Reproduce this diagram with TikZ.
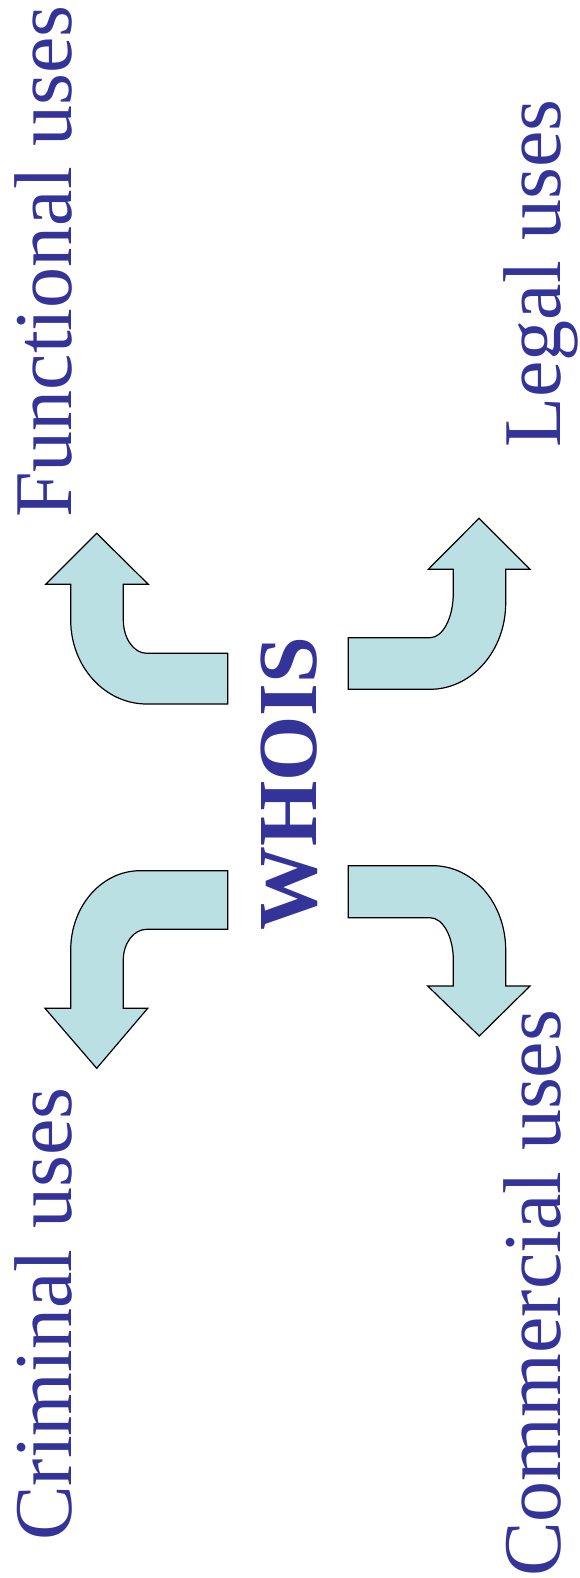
\documentclass[tikz,border=0pt]{standalone}
\usepackage{fontspec}
\setmainfont{Liberation Serif}
\definecolor{txtblue}{RGB}{51,51,153}
\definecolor{arrowfill}{RGB}{186,224,227}
\begin{document}
\begin{tikzpicture}[x=1pt,y=-1pt,
  label/.style={text=txtblue,font=\fontsize{82}{90}\selectfont,rotate=90,anchor=base west,inner sep=0pt},
  title/.style={text=txtblue,font=\fontsize{84}{90}\selectfont\bfseries,rotate=90,anchor=base west,inner sep=0pt},
  bent/.style={draw=black,fill=arrowfill,line width=1.2pt,line join=miter}]
\useasboundingbox (0,0) rectangle (580,1578);
% arrows
\draw[bent] (96.7,533.3) -- (148.3,584.3) -- (123.3,584.3) -- (123.3,620)
  .. controls (123.3,638.4) and (133.8,653.3) .. (146.7,653.3)
  -- (227.7,653.3) -- (227.7,704) -- (146.7,704)
  .. controls (104.7,704) and (70.7,666.4) .. (70.7,620)
  -- (70.7,584.3) -- (45.7,584.3) -- cycle;
\draw[bent] (479,518.3) -- (530,569.3) -- (505.7,569.3) -- (505.7,603)
  .. controls (505.7,650.7) and (471.8,689.3) .. (430,689.3)
  -- (348.3,689.3) -- (348.3,637.7) -- (430,637.7)
  .. controls (442.9,637.7) and (453.3,617.7) .. (453.3,593)
  -- (453.3,569.3) -- (428.3,569.3) -- cycle;
\draw[bent] (227.7,870.7) -- (140,870.7)
  .. controls (101.7,870.7) and (70.7,906.2) .. (70.7,950)
  -- (70.7,1008.3) -- (45,1008.3) -- (96.7,1068.3) -- (147.7,1008.3)
  -- (123.3,1008.3) -- (123.3,960)
  .. controls (123.3,943) and (133.8,929.3) .. (146.7,929.3)
  -- (227.7,929.3) -- cycle;
\draw[bent] (348.3,865.7) -- (433,865.7)
  .. controls (473.2,865.7) and (505.7,903.4) .. (505.7,950)
  -- (505.7,986) -- (530,986) -- (479.3,1036) -- (427.7,986)
  -- (453.3,986) -- (453.3,960)
  .. controls (453.3,936.6) and (442.9,917.7) .. (430,917.7)
  -- (348.3,917.7) -- cycle;
% texts
\node[label] (func) at (71,518) {Functional uses};
\node[label] (legal) at (560,448) {Legal uses};
\node[label] (crim) at (71,1541) {Criminal uses};
\node[label] (comm) at (560,1577) {Commercial uses};
\node[title] (whois) at (316,931) {WHOIS};
\end{tikzpicture}
\end{document}
